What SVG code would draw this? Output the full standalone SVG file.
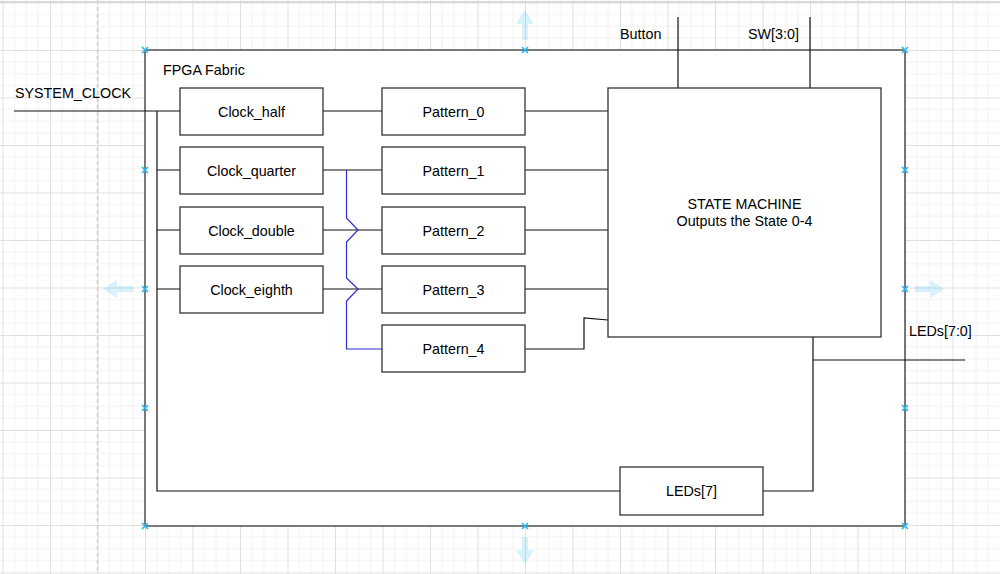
<svg xmlns="http://www.w3.org/2000/svg" width="1000" height="574" viewBox="0 0 1000 574">
<defs>
<pattern id="grid" x="2.5" y="2.5" width="47.5" height="47.5" patternUnits="userSpaceOnUse">
<path d="M11.875 0V47.5M23.75 0V47.5M35.625 0V47.5M0 11.875H47.5M0 23.75H47.5M0 35.625H47.5" stroke="#f1f1f1" stroke-width="1" fill="none"/>
<path d="M0.5 0V47.5M0 0.5H47.5" stroke="#e0e0e0" stroke-width="1" fill="none"/>
</pattern>
<g id="hx"><path d="M-3 -3L3 3M-3 3L3 -3" stroke="#29b6f2" stroke-width="1.6"/></g>
</defs>
<style>
.box{fill:#fff;stroke:#333;stroke-width:1.3}
.ln{fill:none;stroke:#111;stroke-width:1.2}
.bl{fill:none;stroke:#2b2bcc;stroke-width:1.2}
.t{font-family:"Liberation Sans",Arial,sans-serif;font-size:14.3px;fill:#000}
.c{text-anchor:middle;dominant-baseline:central}
.l{dominant-baseline:central}
.ar{fill:#29b6f2;opacity:0.18}
</style>
<rect width="1000" height="574" fill="#fff"/>
<rect width="1000" height="574" fill="url(#grid)"/>
<path d="M97.5 0V574" stroke="#d0d0d0" stroke-width="1.5" stroke-dasharray="4 3"/>
<path d="M0 2H1000" stroke="#d8d8d8" stroke-width="2"/>

<g id="fpga">
<rect class="box" x="145" y="50" width="760" height="476"/>
<text class="t l" x="163" y="70">FPGA Fabric</text>
</g>

<g id="connectors">
<path class="ln" d="M14 111H180"/>
<path class="ln" d="M157 111V491H620"/>
<path class="ln" d="M157 170H180M157 230H180M157 289H180"/>
<path class="ln" d="M323 111H382M323 170H382M323 230H382M323 289H382"/>
<path class="bl" d="M346.5 170V218L358 230L346.5 242V278L358 289L346.5 301V349H382"/>
<path class="ln" d="M525 111H608M525 170H608M525 230H608M525 289H608"/>
<path class="ln" d="M525 349H584V318L608 320"/>
<path class="ln" d="M678 17V88M810 17V88"/>
<path class="ln" d="M813 337V491H763"/>
<path class="ln" d="M813 360H965"/>
</g>

<g id="labels">
<text class="t l" x="15" y="93">SYSTEM_CLOCK</text>
<text class="t l" x="620" y="34">Button</text>
<text class="t l" x="748" y="34">SW[3:0]</text>
<text class="t l" x="909" y="331">LEDs[7:0]</text>
</g>

<g id="clock_half"><rect class="box" x="180" y="88" width="143" height="47"/><text class="t c" x="251.5" y="111.5">Clock_half</text></g>
<g id="clock_quarter"><rect class="box" x="180" y="147" width="143" height="47"/><text class="t c" x="251.5" y="170.5">Clock_quarter</text></g>
<g id="clock_double"><rect class="box" x="180" y="207" width="143" height="47"/><text class="t c" x="251.5" y="230.5">Clock_double</text></g>
<g id="clock_eighth"><rect class="box" x="180" y="266" width="143" height="47"/><text class="t c" x="251.5" y="289.5">Clock_eighth</text></g>

<g id="pattern_0"><rect class="box" x="382" y="88" width="143" height="47"/><text class="t c" x="453.5" y="111.5">Pattern_0</text></g>
<g id="pattern_1"><rect class="box" x="382" y="147" width="143" height="47"/><text class="t c" x="453.5" y="170.5">Pattern_1</text></g>
<g id="pattern_2"><rect class="box" x="382" y="207" width="143" height="47"/><text class="t c" x="453.5" y="230.5">Pattern_2</text></g>
<g id="pattern_3"><rect class="box" x="382" y="266" width="143" height="47"/><text class="t c" x="453.5" y="289.5">Pattern_3</text></g>
<g id="pattern_4"><rect class="box" x="382" y="325" width="143" height="47"/><text class="t c" x="453.5" y="349">Pattern_4</text></g>

<g id="state_machine"><rect class="box" x="608" y="88" width="273" height="249"/>
<text class="t c" x="744.5" y="204">STATE MACHINE</text>
<text class="t c" x="744.5" y="221">Outputs the State 0-4</text></g>

<g id="leds7"><rect class="box" x="620" y="467" width="143" height="48"/><text class="t c" x="691.5" y="491">LEDs[7]</text></g>

<g id="handles">
<use href="#hx" x="145" y="50"/><use href="#hx" x="525" y="50"/><use href="#hx" x="905" y="50"/>
<use href="#hx" x="145" y="170"/><use href="#hx" x="905" y="170"/>
<use href="#hx" x="145" y="289"/><use href="#hx" x="905" y="289"/>
<use href="#hx" x="145" y="408"/><use href="#hx" x="905" y="408"/>
<use href="#hx" x="145" y="526"/><use href="#hx" x="525" y="526"/><use href="#hx" x="905" y="526"/>
<path class="ar" d="M525 10L534 24H528V40H522V24H516Z"/>
<path class="ar" d="M525 564L534 550H528V537H522V550H516Z"/>
<path class="ar" d="M103 289L117 280V286H133V292H117V298Z"/>
<path class="ar" d="M944 289L930 280V286H915V292H930V298Z"/>
</g>
</svg>
